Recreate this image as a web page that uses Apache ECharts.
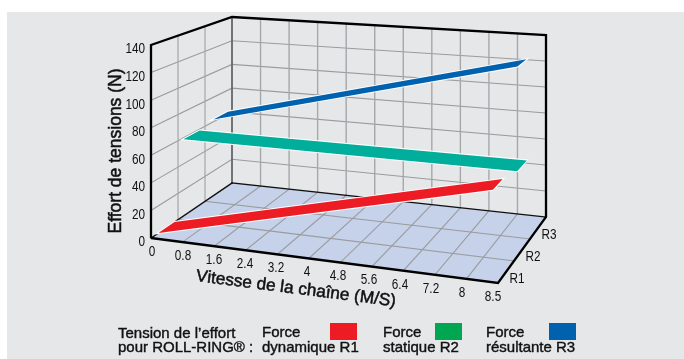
<!DOCTYPE html>
<html>
<head>
<meta charset="utf-8">
<style>html,body{margin:0;padding:0;background:#fff}#c{width:684px;height:359px}</style>
<script src="https://cdn.jsdelivr.net/npm/echarts@6/dist/echarts.min.js"></script>
</head>
<body>
<div id="c"></div>
<script>
// ---- data ----
var speedLabels = ['0','0.8','1.6','2.4','3.2','4','4.8','5.6','6.4','7.2','8','8.5'];
var forceTicks = [0,20,40,60,80,100,120,140];
var depthLabels = ['R1','R2','R3'];
var r1Reach = [0, 10.7];
var r1Force = [0, 58];
var r2Reach = [0, 11];
var r2Force = [59, 60];
var r3Reach = [0, 10.4];
var r3Force = [62, 122];
var legendNames = [['Force','dynamique R1'],['Force','statique R2'],['Force','résultante R3']];

// ---- styling ----
var BG='#E6E7E9', FLOOR='#C5D2EA', GRID='#9A9B9D';
var FONT='"Liberation Sans",Arial,sans-serif';
var ribbonColors=['#ED1C24','#00AE9B','#0061AE'];
var legendColors=['#ED1C24','#00A651','#0061AE'];
var ribbonDepth=[[0.09,0.29],[0.40,0.60],[0.77,0.95]];

// ---- oblique projection: speed (t), depth (w), force (h), all 0..1 ----
var FL=[151,238],FR=[498,283],BL=[232,183],BR=[546,217];
var HFL=193,HFR=211,HBL=166,HBR=182;
function mix(a,b,k){return a+(b-a)*k;}
function project(t,w,h){
  var x=mix(mix(FL[0],FR[0],t),mix(BL[0],BR[0],t),w);
  var y=mix(mix(FL[1],FR[1],t),mix(BL[1],BR[1],t),w);
  var H=mix(mix(HFL,HFR,t),mix(HBL,HBR,t),w);
  return [x,y-H*h];
}
// the hidden cartesian grid turns data into fractions of the box
var G={l:100,t:50,w:400,h:200};
function frac(api,xv,zv){
  var c=api.coord([xv,zv]);
  return [(c[0]-G.l)/G.w,(G.t+G.h-c[1])/G.h];
}
function line(a,b,color,width){
  return {type:'line',shape:{x1:a[0],y1:a[1],x2:b[0],y2:b[1]},style:{stroke:color,lineWidth:width,lineCap:'square'}};
}
function label(text,x,y,align){
  return {type:'text',x:x,y:y,scaleX:0.84,style:{text:text,x:0,y:0,fill:'#111',font:'14px '+FONT,align:align||'center',verticalAlign:'middle'}};
}
function renderBox(params,api){
  var n=speedLabels.length-1,kids=[];
  function P(i,w,z){var f=frac(api,i,z);return project(f[0],w,f[1]);}
  var top=forceTicks[forceTicks.length-1];
  kids.push({type:'polygon',shape:{points:[P(0,0,0),P(n,0,0),P(n,1,0),P(0,1,0)]},style:{fill:FLOOR}});
  // force gridlines on the two walls
  forceTicks.forEach(function(v,k){
    if(k===0||k===forceTicks.length-1)return;
    kids.push({type:'polyline',shape:{points:[P(0,0,v),P(0,1,v),P(n,1,v)]},style:{stroke:GRID,lineWidth:1.1,fill:null}});
  });
  // speed gridlines
  for(var i=1;i<n;i++){
    kids.push(line(P(i,0,0),P(i,1,0),GRID,1.1));
    kids.push(line(P(i,1,0),P(i,1,top),'#A6A7A9',1.4));
  }
  // depth gridlines
  for(var d=1;d<depthLabels.length;d++){
    var w=d/depthLabels.length;
    kids.push(line(P(0,w,0),P(n,w,0),GRID,1.1));
    kids.push(line(P(0,w,0),P(0,w,top),'#A6A7A9',1.2));
  }
  // frame
  kids.push(line(P(0,1,0),P(0,1,top),'#666',1.8));
  kids.push(line(P(0,0,0),P(0,1,0),'#111',1.4));
  kids.push(line(P(0,1,0),P(n,1,0),'#111',1.4));
  kids.push({type:'polyline',shape:{points:[P(0,0,0),P(0,0,top),P(0,1,top),P(n,1,top),P(n,1,0),P(n,0,0),P(0,0,0)]},style:{stroke:'#000',lineWidth:2.3,fill:null,lineJoin:'miter'}});
  // tick labels
  forceTicks.forEach(function(v){
    var p=P(0,0,v);
    kids.push(label(String(v),p[0]-6,p[1]+4.5,'right'));
  });
  speedLabels.forEach(function(s,k){
    var p=P(k,0,0);
    kids.push(label(s,p[0]+1-6*k/n,p[1]+14));
  });
  depthLabels.forEach(function(s,k){
    var p=P(n,(k+0.5)/depthLabels.length,0);
    kids.push(label(s,p[0]+11,p[1]+7));
  });
  return {type:'group',children:kids};
}
function ribbon(idx,reach,force){
  return {
    type:'custom',name:'R'+(idx+1),coordinateSystem:'cartesian2d',clip:false,silent:true,z:5,
    encode:{x:[0,2],y:[1,3]},
    data:[[reach[0],force[0],reach[1],force[1]]],
    renderItem:function(params,api){
      var a=frac(api,api.value(0),api.value(1)),b=frac(api,api.value(2),api.value(3));
      var dp=ribbonDepth[idx];
      var pts=[project(a[0],dp[0],a[1]),project(b[0],dp[0],b[1]),project(b[0],dp[1],b[1]),project(a[0],dp[1],a[1])];
      return {type:'group',children:[
        {type:'polygon',shape:{points:pts},style:{fill:'#fff',stroke:'#fff',lineWidth:2,lineJoin:'miter'}},
        {type:'polygon',shape:{points:pts},style:{fill:ribbonColors[idx]}}
      ]};
    }
  };
}
// ---- legend and titles ----
var B='15px '+FONT;
function t(text,x,y,o){return {type:'text',silent:true,x:x,y:y,style:Object.assign({text:text,fill:'#111',font:B,textAlign:'left',textVerticalAlign:'middle',stroke:'#111',lineWidth:0.4},o||{})};}
var legX=[262,383,486],legRect=[330,435,549];
var gfx=[
  {type:'rect',silent:true,z:-10,shape:{x:7,y:12,width:677,height:347},style:{fill:BG}},
  t('Tension de l\u2019effort',118,334),
  t('pour ROLL-RING\u00AE :',118,348),
  {type:'text',silent:true,x:116,y:151,rotation:Math.PI/2,style:{text:'Effort de tensions (N)',fill:'#111',font:'17.5px '+FONT,textAlign:'center',textVerticalAlign:'middle',stroke:'#111',lineWidth:0.5}},
  {type:'text',silent:true,x:296,y:289,rotation:-7.2*Math.PI/180,style:{text:'Vitesse de la cha\u00EEne (M/S)',fill:'#111',font:'17.2px '+FONT,textAlign:'center',textVerticalAlign:'middle',stroke:'#111',lineWidth:0.5}}
];
legendNames.forEach(function(n,i){
  gfx.push(t(n[0],legX[i],333));
  gfx.push(t(n[1],legX[i],348));
  gfx.push({type:'rect',silent:true,shape:{x:legRect[i],y:323,width:27,height:17},style:{fill:legendColors[i]}});
});
var chart=echarts.init(document.getElementById('c'),null,{renderer:'canvas'});
chart.setOption({
  animation:false,
  backgroundColor:'#fff',
  grid:{left:G.l,top:G.t,width:G.w,height:G.h},
  xAxis:{type:'value',min:0,max:speedLabels.length-1,show:false},
  yAxis:{type:'value',min:0,max:forceTicks[forceTicks.length-1],show:false},
  graphic:gfx,
  series:[
    {type:'custom',name:'box',coordinateSystem:'cartesian2d',clip:false,silent:true,z:1,data:[[0,0]],renderItem:renderBox},
    ribbon(0,r1Reach,r1Force),
    ribbon(1,r2Reach,r2Force),
    ribbon(2,r3Reach,r3Force)
  ]
});
</script>
</body>
</html>
